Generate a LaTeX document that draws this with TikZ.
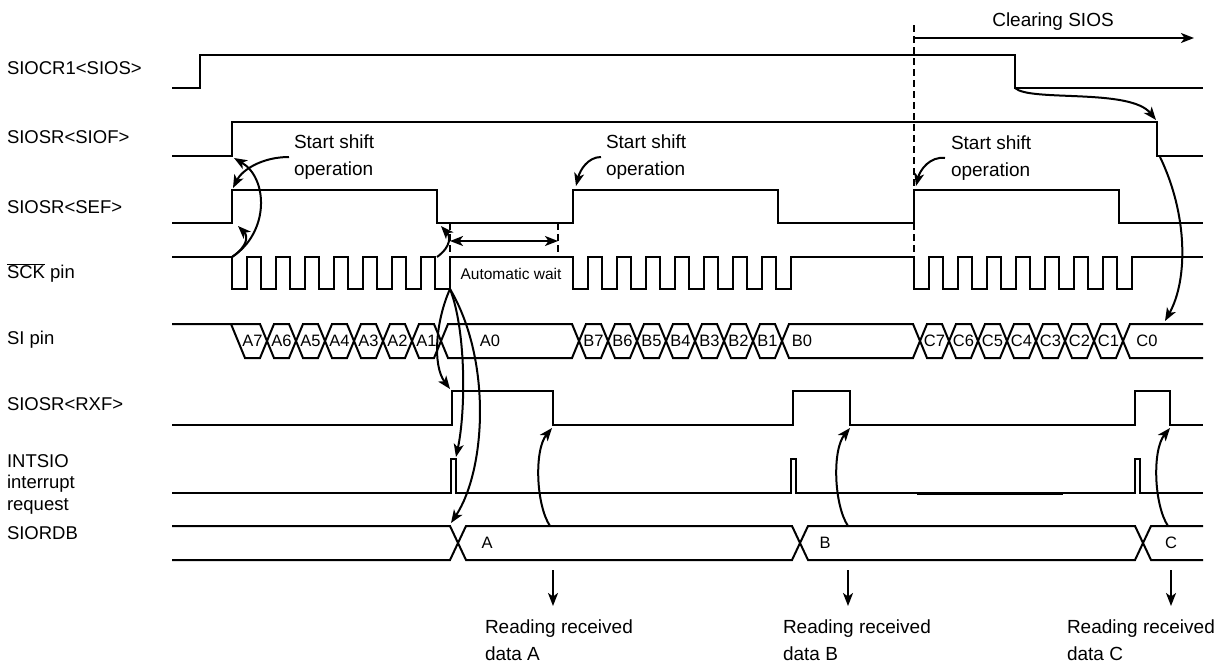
\documentclass[tikz,border=0pt]{standalone}
\usepackage{fontspec}
\setmainfont{Liberation Sans}
\usetikzlibrary{arrows.meta}
\begin{document}
\begin{tikzpicture}[x=1pt,y=-1pt,line width=2pt,
  arr/.style={line width=2pt,-{Stealth[length=13pt,width=10pt,inset=3.5pt]}},
  darr/.style={line width=2pt,{Stealth[length=13pt,width=10pt,inset=3.5pt]}-{Stealth[length=13pt,width=10pt,inset=3.5pt]}},
  lbl/.style={anchor=west,inner sep=0pt,font=\fontsize{18.5}{22}\selectfont},
  ann/.style={anchor=west,align=left,inner sep=0pt,font=\fontsize{19}{27}\selectfont},
  bit/.style={inner sep=0pt,font=\fontsize{16.5}{18}\selectfont},
  dsh/.style={line width=2pt,dash pattern=on 7pt off 4pt}]
\useasboundingbox (0,0) rectangle (1222,664);

% ---- signal names
\node[lbl] (l1) at (6,68) {SIOCR1<SIOS>};
\node[lbl] (l2) at (6,137) {SIOSR<SIOF>};
\node[lbl] (l3) at (6,207) {SIOSR<SEF>};
\node[lbl] (l4) at (6,273) {$\overline{\hbox{SCK}}$ pin};
\node[lbl] (l5) at (6,340) {SI pin};
\node[lbl] (l6) at (6,404) {SIOSR<RXF>};
\node[lbl,align=left,font=\fontsize{18.5}{21.5}\selectfont] (l7) at (6,484) {INTSIO\\interrupt\\request};
\node[lbl] (l8) at (6,533) {SIORDB};

% ---- SIOS
\draw (172,88) -- (200,88) -- (200,55) -- (1015,55) -- (1015,88) -- (1203,88);
% ---- SIOF
\draw (172,156) -- (232,156) -- (232,122) -- (1157,122) -- (1157,156) -- (1203,156);
% ---- SEF
\draw (172,223) -- (232,223) -- (232,190) -- (437,190) -- (437,223) -- (573,223) -- (573,190)
  -- (778,190) -- (778,223) -- (914,223) -- (914,190) -- (1119,190) -- (1119,223) -- (1203,223);
% ---- SCK
\draw (172,257) foreach \s in {232,573,914} { -- (\s,257) foreach \k in {0,...,7} {
   -- ({\s+29*\k},257) -- ({\s+29*\k},289) -- ({\s+29*\k+15},289) -- ({\s+29*\k+15},257) } }
   -- (1203,257);
% ---- SI pin
\def\xlist{267,296,325,354,383,412,441,579,608,637,666,695,724,753,782,920,949,978,1007,1036,1065,1094,1123}
\def\ylist{238,267,296,325,354,383,412,441,579,608,637,666,695,724,753,782,920,949,978,1007,1036,1065,1094,1123}
\draw (172,324) foreach \c [count=\i] in \xlist {
   -- ({\c-7},{ifthenelse(isodd(\i),324,358)}) -- ({\c+7},{ifthenelse(isodd(\i),358,324)}) } -- (1203,358);
\draw (231,324) foreach \c [count=\i] in \ylist {
   -- ({\c-7},{ifthenelse(isodd(\i),324,358)}) -- ({\c+7},{ifthenelse(isodd(\i),358,324)}) } -- (1203,324);
\foreach \t [count=\i from 0] in {A7,A6,A5,A4,A3,A2,A1}
  \node[bit] (a\i) at ({252.5+29*\i},341) {\t};
\node[bit] (a7) at (490,341) {A0};
\foreach \t [count=\i from 0] in {B7,B6,B5,B4,B3,B2,B1}
  \node[bit] (b\i) at ({593.5+29*\i},341) {\t};
\node[bit] (b7) at (802,341) {B0};
\foreach \t [count=\i from 0] in {C7,C6,C5,C4,C3,C2,C1}
  \node[bit] (c\i) at ({934.5+29*\i},341) {\t};
\node[bit] (c7) at (1147,341) {C0};
% ---- RXF
\draw (172,425) -- (452,425) -- (452,391) -- (553,391) -- (553,425) -- (793,425) -- (793,391)
  -- (850,391) -- (850,425) -- (1135,425) -- (1135,391) -- (1170,391) -- (1170,425) -- (1203,425);
% ---- INTSIO
\draw (172,493) -- (451,493) -- (451,459) -- (456,459) -- (456,493) -- (791,493) -- (791,459)
  -- (796,459) -- (796,493) -- (1135,493) -- (1135,459) -- (1140,459) -- (1140,493) -- (1203,493);
\draw[line width=3pt] (917,493) -- (1063,493);
% ---- SIORDB
\draw (172,526) -- (450,526) -- (466,560) -- (792,560) -- (808,526) -- (1135,526) -- (1151,560) -- (1203,560);
\draw (172,560) -- (450,560) -- (466,526) -- (792,526) -- (808,560) -- (1135,560) -- (1151,526) -- (1203,526);
\node[bit] (dA) at (487,543) {A};
\node[bit] (dB) at (825,543) {B};
\node[bit] (dC) at (1171,543) {C};

% ---- annotations
\node[ann] (ss1) at (293,157) {Start shift\\operation};
\node[ann] (ss2) at (605,157) {Start shift\\operation};
\node[ann] (ss3) at (950,158) {Start shift\\operation};
\node[inner sep=0pt,font=\fontsize{19}{22}\selectfont] (clr) at (1053,22) {Clearing SIOS};
\node[inner sep=0pt,font=\fontsize{15.5}{18}\selectfont] (aw) at (511,274) {Automatic wait};
\node[ann] (rA) at (484,640) {Reading received\\data A};
\node[ann] (rB) at (782,640) {Reading received\\data B};
\node[ann] (rC) at (1066,640) {Reading received\\data C};

% ---- coordinates for connectors
\coordinate (sckA) at (232,257);
\coordinate (siofR) at (234,158);
\coordinate (sefR) at (238,226);
\coordinate (sefRt) at (233,188);
\coordinate (sckA8) at (437,257);
\coordinate (sefF) at (441,226);
\coordinate (sckAe) at (450,289);
\coordinate (rxfA) at (450,389);
\coordinate (intA) at (456,457);
\coordinate (dbA) at (451,523);
\coordinate (sefB) at (576,186);
\coordinate (sefC) at (916,186);
\coordinate (siosF) at (1015,88);
\coordinate (siofF) at (1156,120);
\coordinate (siofFb) at (1160,157);
\coordinate (siC0) at (1165,321);
\coordinate (wL) at (450,241);
\coordinate (wR) at (558,241);
\coordinate (clrS) at (914,38);
\coordinate (clrE) at (1194,38);

% dashed markers
\draw[dsh] (914,25) -- (914,257);
\draw[dsh] (450,223) -- (450,257);
\draw[dsh] (558,223) -- (558,257);
\draw[darr] (wL) -- (wR);
\draw[arr] (clrS) -- (clrE);

% start shift arrows
\draw[arr] ([xshift=-4pt]ss1.west) .. controls (262,157) and (242,170) .. (sefRt);
\draw[arr] ([xshift=-4pt]ss2.west) .. controls (588,157) and (580,170) .. (sefB);
\draw[arr] ([xshift=-5pt]ss3.west) .. controls (930,156) and (920,170) .. (sefC);
% SCK -> SIOF / SEF
\draw[arr] (sckA) .. controls (270,232) and (268,178) .. (siofR);
\draw[arr] (sckA) .. controls (248,246) and (248,236) .. (sefR);
\draw[arr] (sckA8) .. controls (452,246) and (450,236) .. (sefF);
% end of A shift
\draw[arr] (sckAe) .. controls (436,320) and (432,365) .. (rxfA);
\draw[arr] (sckAe) .. controls (466,330) and (466,410) .. (intA);
\draw[arr] (sckAe) .. controls (492,360) and (486,470) .. (dbA);
% clearing SIOS
\draw[arr] (siosF) .. controls (1030,102) and (1130,88) .. (siofF);
\draw[arr] (siofFb) .. controls (1188,215) and (1188,280) .. (siC0);
% reading arrows
\coordinate (dbA1) at (550,526); \coordinate (rxA) at (552,428);
\coordinate (dbB1) at (848,526); \coordinate (rxB) at (850,428);
\coordinate (dbC1) at (1168,526); \coordinate (rxC) at (1170,428);
\draw[arr] (dbA1) .. controls (536,505) and (534,450) .. (rxA);
\draw[arr] (dbB1) .. controls (834,505) and (832,450) .. (rxB);
\draw[arr] (dbC1) .. controls (1154,505) and (1152,450) .. (rxC);
\coordinate (dnA) at (553,570); \coordinate (dnA2) at (553,606);
\coordinate (dnB) at (848,570); \coordinate (dnB2) at (848,606);
\coordinate (dnC) at (1171,570); \coordinate (dnC2) at (1171,606);
\draw[arr] (dnA) -- (dnA2);
\draw[arr] (dnB) -- (dnB2);
\draw[arr] (dnC) -- (dnC2);
\end{tikzpicture}
\end{document}
